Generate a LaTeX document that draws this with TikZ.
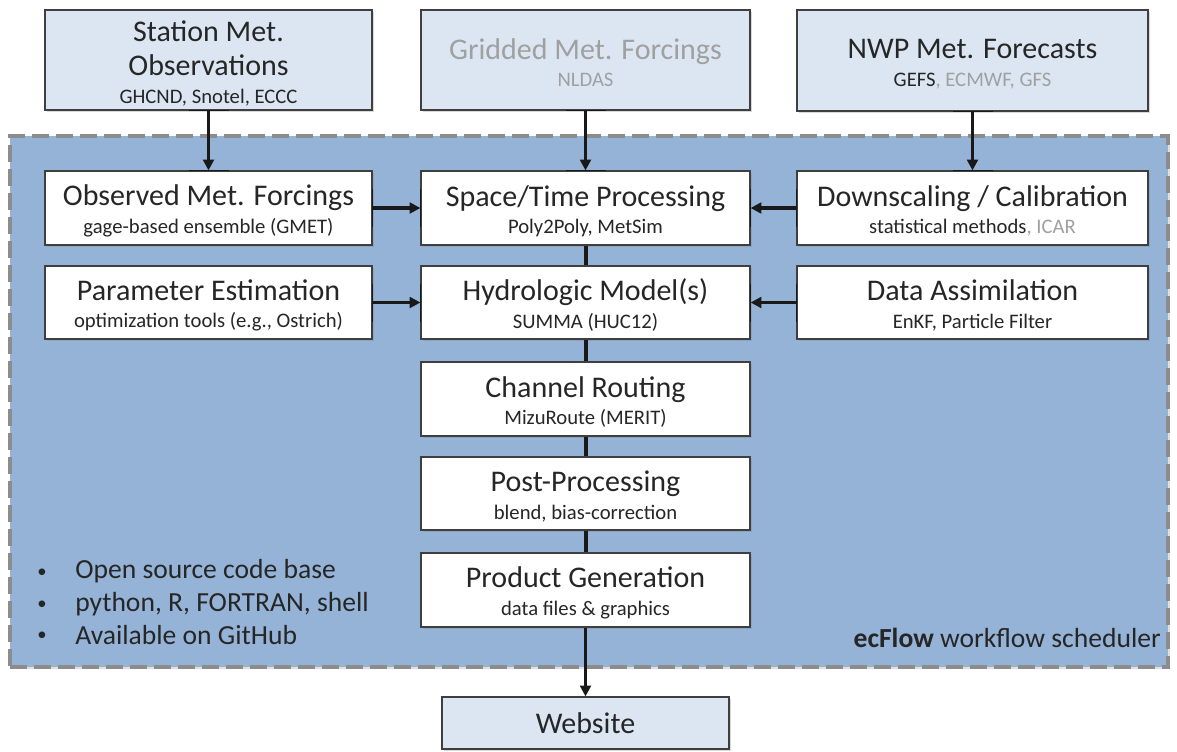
\documentclass[tikz,border=0pt]{standalone}
\usepackage{fontspec}
\setmainfont{Carlito}
\usetikzlibrary{arrows.meta,shadows,calc}
\definecolor{topfill}{HTML}{DCE6F2}
\definecolor{regionfill}{HTML}{95B3D7}
\definecolor{regionline}{HTML}{8C8C8C}
\definecolor{boxline}{HTML}{3F3F3F}
\definecolor{txt}{HTML}{262626}
\definecolor{faint}{HTML}{A0A0A0}
\newcommand\boxttl{\fontsize{22.5}{23}\selectfont}
\newcommand\tstrut{\rule{0pt}{20pt}}
\newcommand\boxsubt{\fontsize{15.5}{23}\selectfont}
\newcommand\bigtxt{\fontsize{20.7}{24}\selectfont}
\tikzset{
  box/.style={draw=boxline, line width=0.9pt, fill=white, inner sep=0pt, align=center, text=txt,
    font=\fontsize{15.5}{20.5}\selectfont,
    drop shadow={shadow xshift=1.2pt, shadow yshift=-1.2pt, opacity=0.3}},
  topbox/.style={box, fill=topfill},
  region/.style={draw=regionline, fill=regionfill, line width=3pt, dash pattern=on 13pt off 5pt,
    inner sep=0pt, drop shadow={shadow xshift=1.5pt, shadow yshift=-1.5pt, opacity=0.25}},
  arr/.style={draw=black!90, line width=2.3pt, -{Triangle[length=8pt,width=8pt]}},
  seg/.style={draw=black!90, line width=3pt},
  capmark/.style={draw=black!90, line width=1.3pt},
  plain/.style={text=txt, inner sep=0pt, font=\bigtxt},
}
\begin{document}
\begin{tikzpicture}[x=0.75pt,y=-0.75pt]
\useasboundingbox (0,0) rectangle (1177,751);

% scheduler region
\node[region, minimum width=1158*0.75pt, minimum height=531*0.75pt] (sched) at (589,401.5) {};

% top inputs
\node[topbox, minimum width=327*0.75pt, minimum height=100*0.75pt] (station) at (208.5,60)
  {\tstrut\boxttl Station Met.\\[5.5pt]\boxttl Observations\\\boxsubt GHCND, Snotel, ECCC};
\node[topbox, minimum width=329*0.75pt, minimum height=100*0.75pt] (gridded) at (585.5,60)
  {\tstrut\boxttl\color{faint} Gridded Met. Forcings\\\boxsubt\color{faint} NLDAS};
\node[topbox, minimum width=351*0.75pt, minimum height=101*0.75pt] (nwp) at (972.5,60.5)
  {\tstrut\boxttl NWP Met. Forecasts\\\boxsubt GEFS\textcolor{faint}{, ECMWF, GFS}};

% row 1
\node[box, minimum width=327*0.75pt, minimum height=74*0.75pt] (observed) at (208.5,208)
  {\tstrut\boxttl Observed Met. Forcings\\\boxsubt gage-based ensemble (GMET)};
\node[box, minimum width=329*0.75pt, minimum height=74*0.75pt] (space) at (585.5,208)
  {\tstrut\boxttl Space/Time Processing\\\boxsubt Poly2Poly, MetSim};
\node[box, minimum width=351*0.75pt, minimum height=74*0.75pt] (down) at (972.5,208)
  {\tstrut\boxttl Downscaling / Calibration\\\boxsubt statistical methods\textcolor{faint}{, ICAR}};

% row 2
\node[box, minimum width=327*0.75pt, minimum height=73*0.75pt] (param) at (208.5,302.5)
  {\tstrut\boxttl Parameter Estimation\\\boxsubt optimization tools (e.g., Ostrich)};
\node[box, minimum width=329*0.75pt, minimum height=73*0.75pt] (hydro) at (585.5,302.5)
  {\tstrut\boxttl Hydrologic Model(s)\\\boxsubt SUMMA (HUC12)};
\node[box, minimum width=351*0.75pt, minimum height=73*0.75pt] (assim) at (972.5,302.5)
  {\tstrut\boxttl Data Assimilation\\\boxsubt EnKF, Particle Filter};

% central chain
\node[box, minimum width=329*0.75pt, minimum height=74*0.75pt] (channel) at (585.5,399)
  {\tstrut\boxttl Channel Routing\\\boxsubt MizuRoute (MERIT)};
\node[box, minimum width=329*0.75pt, minimum height=73*0.75pt] (post) at (585.5,493.5)
  {\tstrut\boxttl Post-Processing\\\boxsubt blend, bias-correction};
\node[box, minimum width=329*0.75pt, minimum height=74*0.75pt] (product) at (585.5,590)
  {\tstrut\boxttl Product Generation\\\boxsubt data files \& graphics};
\node[topbox, minimum width=287*0.75pt, minimum height=52*0.75pt] (website) at (585.5,723)
  {\boxttl Website};

% bullets
\node[plain, anchor=center, font=\fontsize{14}{16}\selectfont] (b1) at (42,573) {•};
\node[plain, anchor=center, font=\fontsize{14}{16}\selectfont] (b2) at (42,605) {•};
\node[plain, anchor=center, font=\fontsize{14}{16}\selectfont] (b3) at (42,636) {•};
\node[plain, anchor=west] (l1) at (75,571) {Open source code base};
\node[plain, anchor=west] (l2) at (75,604) {python, R, FORTRAN, shell};
\node[plain, anchor=west] (l3) at (75,635) {Available on GitHub};
\node[plain, anchor=east] (sched label) at (1161,638) {\textbf{ecFlow} workflow scheduler};

% connectors
\draw[arr] (station.south) -- (observed.north);
\draw[arr] (gridded.south) -- (space.north);
\draw[arr] (nwp.south) -- (down.north);
\draw[arr] (observed.east) -- (space.west);
\draw[arr] (down.west) -- (space.east);
\draw[arr] (param.east) -- (hydro.west);
\draw[arr] (assim.west) -- (hydro.east);
\draw[seg] (space.south) -- (hydro.north);
\draw[seg] (hydro.south) -- (channel.north);
\draw[seg] (channel.south) -- (post.north);
\draw[seg] (post.south) -- (product.north);
\draw[arr] (product.south) -- (website.north);

% connection marks on box edges
\foreach \n in {station.south,observed.north,gridded.south,space.north,nwp.south,down.north}
  \draw[capmark] ($(\n)+(-20,0)$) -- ($(\n)+(20,0)$);
\foreach \n in {observed.east,space.west,down.west,space.east,param.east,hydro.west,assim.west,hydro.east}
  \draw[capmark] ($(\n)+(0,-19)$) -- ($(\n)+(0,19)$);
\end{tikzpicture}
\end{document}
